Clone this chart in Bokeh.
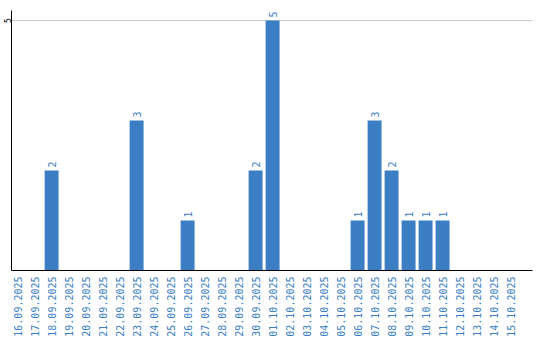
import math
from bokeh.plotting import figure
from bokeh.models import ColumnDataSource, FixedTicker, Range1d
from bokeh.core.properties import value
from bokeh.embed import file_html
from bokeh.resources import INLINE

dates = ["16.09.2025", "17.09.2025", "18.09.2025", "19.09.2025", "20.09.2025",
         "21.09.2025", "22.09.2025", "23.09.2025", "24.09.2025", "25.09.2025",
         "26.09.2025", "27.09.2025", "28.09.2025", "29.09.2025", "30.09.2025",
         "01.10.2025", "02.10.2025", "03.10.2025", "04.10.2025", "05.10.2025",
         "06.10.2025", "07.10.2025", "08.10.2025", "09.10.2025", "10.10.2025",
         "11.10.2025", "12.10.2025", "13.10.2025", "14.10.2025", "15.10.2025"]
counts = [0, 0, 2, 0, 0, 0, 0, 3, 0, 0,
          1, 0, 0, 0, 2, 5, 0, 0, 0, 0,
          1, 3, 2, 1, 1, 1, 0, 0, 0, 0]
y_ticks = [5]

BLUE = "#3b7ec3"

xs = list(range(len(dates)))
src = ColumnDataSource(dict(x=xs, top=counts))
nz = [i for i, c in enumerate(counts) if c > 0]
lab = ColumnDataSource(dict(x=[xs[i] for i in nz], y=[counts[i] for i in nz],
                            t=[str(counts[i]) for i in nz]))

p = figure(width=540, height=340, frame_width=521, frame_height=260,
           output_backend="svg", toolbar_location=None,
           x_range=Range1d(-0.36, 30.29), y_range=Range1d(0, 5.2),
           min_border_left=10, min_border_right=8, min_border_top=10, min_border_bottom=70)
p.outline_line_color = None
p.background_fill_color = "white"
p.border_fill_color = "white"

p.vbar(x="x", top="top", width=0.82, source=src, fill_color=BLUE, line_color=None)
p.text(x="x", y="y", text="t", source=lab, angle=math.pi / 2, x_offset=0, y_offset=-3,
       text_align="left", text_baseline="middle", text_color=BLUE,
       text_font=value("DejaVu Sans Mono"), text_font_size="10px")

p.xaxis.ticker = FixedTicker(ticks=xs)
p.xaxis.major_label_overrides = {i: d for i, d in enumerate(dates)}
p.xaxis.major_label_orientation = math.pi / 2
p.xaxis.major_label_text_color = BLUE
p.xaxis.major_label_text_font = "DejaVu Sans Mono"
p.xaxis.major_label_text_font_size = "10px"
p.xaxis.major_tick_line_color = None
p.xaxis.major_tick_out = 0
p.xaxis.minor_tick_line_color = None
p.xaxis.minor_tick_out = 0
p.xaxis.major_label_standoff = 6
p.xaxis.axis_line_color = "black"

p.yaxis.ticker = FixedTicker(ticks=y_ticks)
p.yaxis.major_label_orientation = "parallel"
p.yaxis.major_label_text_color = "black"
p.yaxis.major_label_text_font = "DejaVu Sans Mono"
p.yaxis.major_label_text_font_size = "8px"
p.yaxis.major_tick_line_color = None
p.yaxis.major_tick_out = 0
p.yaxis.minor_tick_line_color = None
p.yaxis.minor_tick_out = 0
p.yaxis.major_label_standoff = 1
p.yaxis.axis_line_color = "black"

p.xgrid.grid_line_color = None
p.ygrid.ticker = FixedTicker(ticks=y_ticks)
p.ygrid.grid_line_color = "#cccccc"

open("out.html", "w").write(file_html(p, INLINE))
